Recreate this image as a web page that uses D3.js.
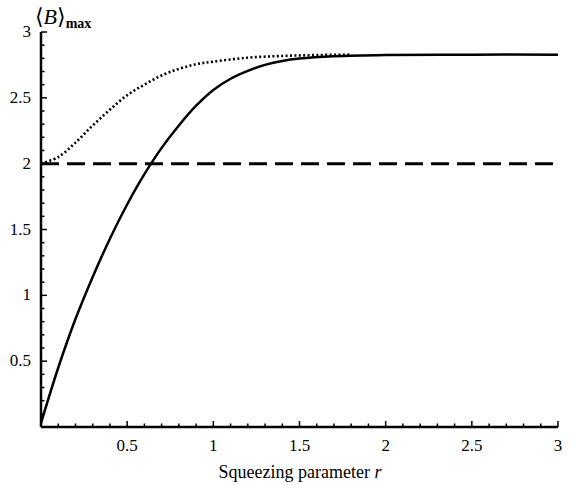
<!DOCTYPE html>
<html>
<head>
<meta charset="utf-8">
<script src="https://cdn.jsdelivr.net/npm/d3@7"></script>
<style>
  body { margin: 0; background: #fff; }
  svg text { font-family: "Liberation Serif", Tinos, "Times New Roman", "DejaVu Serif", serif; }
</style>
</head>
<body>
<svg id="chart" width="576" height="485"></svg>
<script>
// Valeurs
const rSolid = [0, 0.1, 0.2, 0.3, 0.4, 0.5, 0.6, 0.7, 0.8, 0.9, 1.0, 1.1, 1.2, 1.3, 1.4, 1.5, 1.7, 2.0, 2.5, 3.0];
const bSolid = [0.03, 0.45, 0.82, 1.14, 1.43, 1.69, 1.92, 2.12, 2.29, 2.44, 2.56, 2.645, 2.705, 2.75, 2.78, 2.798, 2.815, 2.825, 2.828, 2.828];
const rDotted = [0, 0.1, 0.2, 0.3, 0.4, 0.5, 0.6, 0.7, 0.8, 0.9, 1.0, 1.2, 1.4, 1.6, 1.8];
const bDotted = [2.0, 2.05, 2.16, 2.29, 2.41, 2.52, 2.6, 2.67, 2.72, 2.755, 2.775, 2.805, 2.818, 2.825, 2.828];
const rDashed = [0, 3];
const bDashed = [2, 2];
const xTicks = [0.5, 1, 1.5, 2, 2.5, 3];
const yTicks = [0.5, 1, 1.5, 2, 2.5, 3];

const svg = d3.select("#chart");
const x = d3.scaleLinear().domain([0, 3]).range([41, 558]);
const y = d3.scaleLinear().domain([0, 3]).range([427, 32]);

// Graduations secondaires tous les 0.1
const minor = d3.range(1, 31).map((i) => i / 10);
const isMajor = (d) => xTicks.includes(+d.toFixed(1));
const axes = svg.append("g").attr("stroke", "#000");

axes.selectAll(".xminor").data(minor).enter().append("line")
  .attr("x1", (d) => x(d)).attr("x2", (d) => x(d))
  .attr("y1", y(0)).attr("y2", (d) => y(0) - (isMajor(d) ? 6 : 3.5))
  .attr("stroke-width", 1.5);
axes.selectAll(".yminor").data(minor).enter().append("line")
  .attr("y1", (d) => y(d)).attr("y2", (d) => y(d))
  .attr("x1", x(0)).attr("x2", (d) => x(0) + (isMajor(d) ? 6 : 3.5))
  .attr("stroke-width", 1.5);

axes.append("line").attr("x1", x(0)).attr("x2", x(3)).attr("y1", y(0)).attr("y2", y(0)).attr("stroke-width", 2.5);
axes.append("line").attr("x1", x(0)).attr("x2", x(0)).attr("y1", y(0)).attr("y2", y(3)).attr("stroke-width", 2.5);

// Étiquettes
svg.selectAll(".xl").data(xTicks).enter().append("text")
  .attr("x", (d) => x(d)).attr("y", 451).attr("text-anchor", "middle")
  .attr("font-size", 17).text((d) => d);
svg.selectAll(".yl").data(yTicks).enter().append("text")
  .attr("x", 31).attr("y", (d) => y(d) + 5).attr("text-anchor", "end")
  .attr("font-size", 17).text((d) => d);

const xl = svg.append("text").attr("x", 300).attr("y", 478).attr("text-anchor", "middle").attr("font-size", 18);
xl.append("tspan").text("Squeezing parameter ");
xl.append("tspan").attr("font-style", "italic").text("r");

const yl = svg.append("text").attr("x", 35).attr("y", 24).attr("font-size", 22);
yl.append("tspan").text("\u27E8");
yl.append("tspan").attr("font-style", "italic").text("B");
yl.append("tspan").text("\u27E9");
yl.append("tspan").attr("font-size", 14).attr("font-weight", "bold").attr("dy", 4).text("max");

// Courbes
const line = d3.line().x((d) => x(d[0])).y((d) => y(d[1])).curve(d3.curveCatmullRom.alpha(0.5));
const zip = (a, b) => a.map((v, i) => [v, b[i]]);

svg.append("path").datum(zip(rDashed, bDashed)).attr("d", line)
  .attr("fill", "none").attr("stroke", "#000").attr("stroke-width", 3).attr("stroke-dasharray", "18,8");
svg.append("path").datum(zip(rDotted, bDotted)).attr("d", line)
  .attr("fill", "none").attr("stroke", "#000").attr("stroke-width", 2.6).attr("stroke-dasharray", "2,2.4");
svg.append("path").datum(zip(rSolid, bSolid)).attr("d", line)
  .attr("fill", "none").attr("stroke", "#000").attr("stroke-width", 2.5);
</script>
</body>
</html>
